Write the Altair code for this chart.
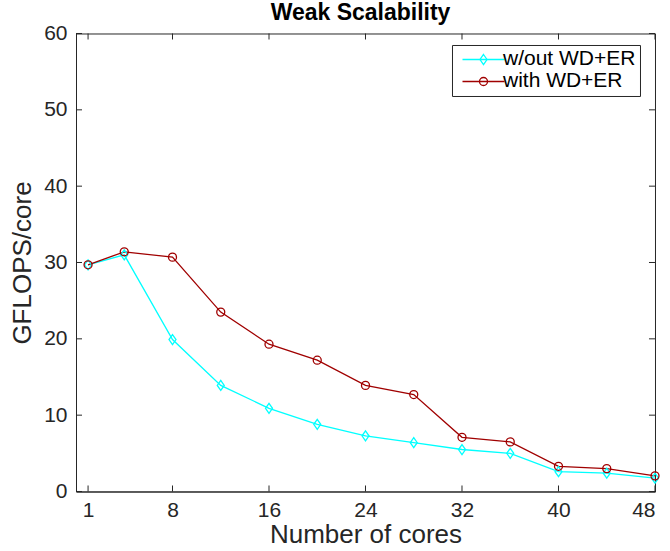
import altair as alt
import pandas as pd

cores = [1, 4, 8, 12, 16, 20, 24, 28, 32, 36, 40, 44, 48]
without_wd_er = [29.7, 31.0, 19.9, 13.9, 10.9, 8.8, 7.3, 6.4, 5.5, 5.0, 2.6, 2.4, 1.75]
with_wd_er = [29.7, 31.4, 30.7, 23.5, 19.3, 17.2, 13.9, 12.7, 7.1, 6.5, 3.3, 3.0, 2.05]
series_names = ["w/out WD+ER", "with WD+ER"]
series_colors = ["#00FFFF", "#A00000"]
x_ticks = [1, 8, 16, 24, 32, 40, 48]
y_ticks = [0, 10, 20, 30, 40, 50, 60]

df = pd.DataFrame({
    "cores": cores + cores,
    "gflops": without_wd_er + with_wd_er,
    "series": [series_names[0]] * len(cores) + [series_names[1]] * len(cores),
})
xdf = pd.DataFrame({"cores": x_ticks})
ydf = pd.DataFrame({"gflops": y_ticks})

W, H = 579, 458
FONT = "Liberation Sans"
AX = "#262626"

x_scale = alt.Scale(domain=[0, 48], nice=False, zero=False)
y_scale = alt.Scale(domain=[0, 60], nice=False)
color_scale = alt.Scale(domain=series_names, range=series_colors)

diamond = "M0,-1L0.7,0L0,1L-0.7,0Z"
circle = "M0.8,0A0.8,0.8 0 1,1 -0.8,0A0.8,0.8 0 1,1 0.8,0Z"
long_stroke = "M-4.2,0H4.2"

x_axis = alt.Axis(values=x_ticks, title="Number of cores", labelFontSize=21,
                  titleFontSize=26, labelPadding=8, titlePadding=1)
y_axis = alt.Axis(values=y_ticks, title="GFLOPS/core", labelFontSize=21,
                  titleFontSize=26, labelPadding=9, titlePadding=8)

LX, LY = 376, 11.5
line_legend = alt.Legend(
    title=None, orient="none", legendX=LX, legendY=LY,
    strokeColor=AX, fillColor="white", padding=4, cornerRadius=0,
    labelFont=FONT, labelFontSize=21, labelColor="black",
    symbolType=long_stroke, symbolSize=100, symbolStrokeWidth=1.3,
    symbolOffset=17, labelOffset=9, rowPadding=0, zindex=0,
)
point_legend = alt.Legend(
    title=None, orient="none", legendX=LX, legendY=LY,
    strokeColor="transparent", fillColor="transparent", padding=4, cornerRadius=0,
    labelFont=FONT, labelFontSize=21, labelOpacity=0,
    symbolSize=100, symbolOffset=17, symbolStrokeWidth=1.3,
    labelOffset=9, rowPadding=0, zindex=1,
)

base = alt.Chart(df)
lines = base.mark_line(strokeWidth=1.3).encode(
    x=alt.X("cores:Q", scale=x_scale, axis=x_axis),
    y=alt.Y("gflops:Q", scale=y_scale, axis=y_axis),
    color=alt.Color("series:N", scale=color_scale, legend=line_legend),
)

points = base.mark_point(filled=False, size=100, strokeWidth=1.3, opacity=1).encode(
    x=alt.X("cores:Q", scale=x_scale),
    y=alt.Y("gflops:Q", scale=y_scale),
    color=alt.Color("series:N", scale=color_scale, legend=point_legend),
    shape=alt.Shape("series:N", scale=alt.Scale(domain=series_names, range=[diamond, circle]),
                    legend=point_legend),
)

tick_style = dict(color=AX, strokeWidth=1)
bottom_ticks = alt.Chart(xdf).mark_rule(**tick_style).encode(
    x=alt.X("cores:Q", scale=x_scale), y=alt.value(H), y2=alt.value(H - 6))
top_ticks = alt.Chart(xdf).mark_rule(**tick_style).encode(
    x=alt.X("cores:Q", scale=x_scale), y=alt.value(0), y2=alt.value(6))
left_ticks = alt.Chart(ydf).mark_rule(**tick_style).encode(
    y=alt.Y("gflops:Q", scale=y_scale), x=alt.value(0), x2=alt.value(6))
right_ticks = alt.Chart(ydf).mark_rule(**tick_style).encode(
    y=alt.Y("gflops:Q", scale=y_scale), x=alt.value(W), x2=alt.value(W - 6))

chart = alt.layer(lines, points, bottom_ticks, top_ticks, left_ticks, right_ticks).resolve_legend(
    color="independent", shape="independent"
).properties(
    width=W, height=H, background="white",
    view=alt.ViewBackground(stroke=AX, strokeWidth=1),
    title=alt.TitleParams("Weak Scalability", font=FONT, fontSize=23, fontWeight="bold",
                          color="black", anchor="middle", offset=-3, dx=-5),
    autosize=alt.AutoSizeParams(type="none"),
    padding={"left": 76, "top": 33.5, "right": 15, "bottom": 59.3},
).configure_view(stroke=AX, strokeWidth=1).configure_axis(
    grid=False, ticks=False, domainColor=AX, domainWidth=1,
    labelFont=FONT, titleFont=FONT, labelColor=AX, titleColor=AX, titleFontWeight="normal",
)

chart.save("out.html", embed_options={"renderer": "svg", "actions": False})
